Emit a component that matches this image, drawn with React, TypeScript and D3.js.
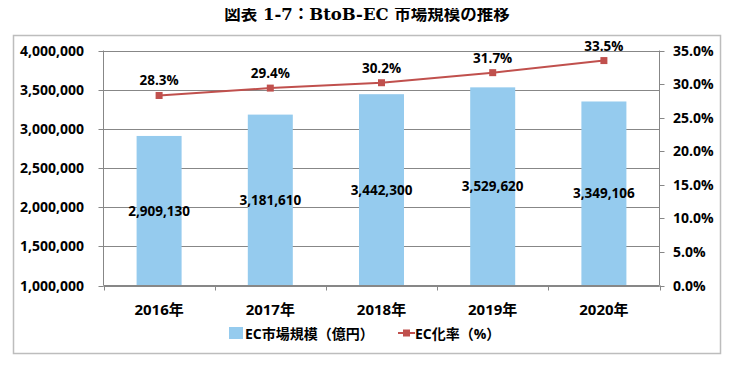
import { useEffect, useRef } from 'react';
import * as d3 from 'd3';

const years = ['2016年', '2017年', '2018年', '2019年', '2020年'];
const marketSize = [2909130, 3181610, 3442300, 3529620, 3349106];
const ecRate = [28.3, 29.4, 30.2, 31.7, 33.5];
const leftTicks = [1000000, 1500000, 2000000, 2500000, 3000000, 3500000, 4000000];
const rightTicks = [0, 5, 10, 15, 20, 25, 30, 35];

const W = 733;
const H = 367;
const FONT = "'Open Sans', 'Noto Sans CJK JP', sans-serif";
const BAR = '#95CBEE';
const LINE = '#C0504D';
const GRID = '#878787';

export default function App() {
  const svgRef = useRef<SVGSVGElement>(null);

  useEffect(() => {
    if (!svgRef.current) return;
    const svg = d3.select(svgRef.current);
    svg.selectAll('*').remove();

    const plot = { left: 103.5, right: 659.5, top: 50.5, bottom: 285.5 };

    // outer frame
    svg.append('rect')
      .attr('x', 13.5).attr('y', 35.5)
      .attr('width', 707).attr('height', 318)
      .attr('fill', 'white')
      .attr('stroke', '#BDBDBD').attr('stroke-width', 1.5);

    // title
    svg.append('text')
      .attr('x', 367).attr('y', 20)
      .attr('text-anchor', 'middle')
      .attr('font-family', "'DejaVu Serif', 'Noto Sans CJK JP', serif")
      .attr('font-weight', 700)
      .attr('font-size', 16.5)
      .text('図表 1-7：BtoB-EC 市場規模の推移');

    const x = d3.scaleBand<string>().domain(years).range([plot.left, plot.right]).paddingInner(0).paddingOuter(0);
    const y = d3.scaleLinear().domain([1000000, 4000000]).range([plot.bottom, plot.top]);
    const y2 = d3.scaleLinear().domain([0, 35]).range([plot.bottom, plot.top]);

    const g = svg.append('g');

    // gridlines
    g.selectAll('.grid')
      .data(leftTicks)
      .join('line')
      .attr('x1', plot.left).attr('x2', plot.right)
      .attr('y1', d => Math.round(y(d)) + 0.5).attr('y2', d => Math.round(y(d)) + 0.5)
      .attr('stroke', GRID).attr('stroke-width', 1);

    // left axis
    g.append('line')
      .attr('x1', plot.left).attr('x2', plot.left)
      .attr('y1', plot.top).attr('y2', plot.bottom)
      .attr('stroke', GRID);
    g.selectAll('.ltick')
      .data(leftTicks)
      .join('line')
      .attr('x1', plot.left - 5).attr('x2', plot.left)
      .attr('y1', d => Math.round(y(d)) + 0.5).attr('y2', d => Math.round(y(d)) + 0.5)
      .attr('stroke', GRID);
    g.selectAll('.llabel')
      .data(leftTicks)
      .join('text')
      .attr('x', 84).attr('y', d => y(d) + 5)
      .attr('text-anchor', 'end')
      .attr('font-family', FONT).attr('font-weight', 700).attr('font-size', 14)
      .text(d => d3.format(',')(d));

    // right axis
    g.append('line')
      .attr('x1', plot.right).attr('x2', plot.right)
      .attr('y1', plot.top).attr('y2', plot.bottom)
      .attr('stroke', GRID);
    g.selectAll('.rtick')
      .data(rightTicks)
      .join('line')
      .attr('x1', plot.right).attr('x2', plot.right + 5)
      .attr('y1', d => Math.round(y2(d)) + 0.5).attr('y2', d => Math.round(y2(d)) + 0.5)
      .attr('stroke', GRID);
    g.selectAll('.rlabel')
      .data(rightTicks)
      .join('text')
      .attr('x', 673).attr('y', d => y2(d) + 5)
      .attr('font-family', FONT).attr('font-weight', 700).attr('font-size', 14)
      .text(d => d.toFixed(1) + '%');

    // bars
    const bw = 45;
    g.selectAll('.bar')
      .data(marketSize)
      .join('rect')
      .attr('x', (_d, i) => x(years[i])! + x.bandwidth() / 2 - bw / 2)
      .attr('y', d => y(d))
      .attr('width', bw)
      .attr('height', d => plot.bottom - y(d))
      .attr('fill', BAR);

    // x axis
    g.append('line')
      .attr('x1', plot.left).attr('x2', plot.right)
      .attr('y1', plot.bottom).attr('y2', plot.bottom)
      .attr('stroke', GRID);
    const bounds = years.map(yr => x(yr)!).concat([plot.right]);
    g.selectAll('.xtick')
      .data(bounds)
      .join('line')
      .attr('x1', d => Math.round(d) + 0.5).attr('x2', d => Math.round(d) + 0.5)
      .attr('y1', plot.bottom).attr('y2', plot.bottom + 5)
      .attr('stroke', GRID);
    g.selectAll('.xlabel')
      .data(years)
      .join('text')
      .attr('x', d => x(d)! + x.bandwidth() / 2)
      .attr('y', 315)
      .attr('text-anchor', 'middle')
      .attr('font-family', FONT).attr('font-weight', 700).attr('font-size', 15)
      .text(d => d);

    // bar labels
    g.selectAll('.blabel')
      .data(marketSize)
      .join('text')
      .attr('x', (_d, i) => x(years[i])! + x.bandwidth() / 2)
      .attr('y', d => (y(d) + plot.bottom) / 2 + 5)
      .attr('text-anchor', 'middle')
      .attr('font-family', FONT).attr('font-weight', 700).attr('font-size', 13.5)
      .text(d => d3.format(',')(d));

    // line
    const cx = (i: number) => x(years[i])! + x.bandwidth() / 2;
    const line = d3.line<number>()
      .x((_d, i) => cx(i))
      .y(d => y2(d));
    g.append('path')
      .datum(ecRate)
      .attr('fill', 'none')
      .attr('stroke', LINE)
      .attr('stroke-width', 2)
      .attr('d', line);
    g.selectAll('.marker')
      .data(ecRate)
      .join('rect')
      .attr('x', (_d, i) => cx(i) - 3.5)
      .attr('y', d => y2(d) - 3.5)
      .attr('width', 7).attr('height', 7)
      .attr('fill', LINE);
    g.selectAll('.rlabelpt')
      .data(ecRate)
      .join('text')
      .attr('x', (_d, i) => cx(i))
      .attr('y', d => y2(d) - 10)
      .attr('text-anchor', 'middle')
      .attr('font-family', FONT).attr('font-weight', 700).attr('font-size', 13.5)
      .text(d => d.toFixed(1) + '%');

    // legend
    const lg = svg.append('g');
    lg.append('rect')
      .attr('x', 229).attr('y', 327).attr('width', 14).attr('height', 12)
      .attr('fill', BAR);
    lg.append('text')
      .attr('x', 245).attr('y', 338.5)
      .attr('font-family', FONT).attr('font-weight', 700).attr('font-size', 14)
      .text('EC市場規模（億円）');
    lg.append('line')
      .attr('x1', 398).attr('x2', 415).attr('y1', 333).attr('y2', 333)
      .attr('stroke', LINE).attr('stroke-width', 2);
    lg.append('rect')
      .attr('x', 403).attr('y', 329.5).attr('width', 7).attr('height', 7)
      .attr('fill', LINE);
    lg.append('text')
      .attr('x', 415).attr('y', 338.5)
      .attr('font-family', FONT).attr('font-weight', 700).attr('font-size', 14)
      .text('EC化率（%）');
  }, []);

  return (
    <div style={{ width: W, height: H, margin: -8, background: 'white' }}>
      <svg ref={svgRef} width={W} height={H} style={{ display: 'block' }} />
    </div>
  );
}
